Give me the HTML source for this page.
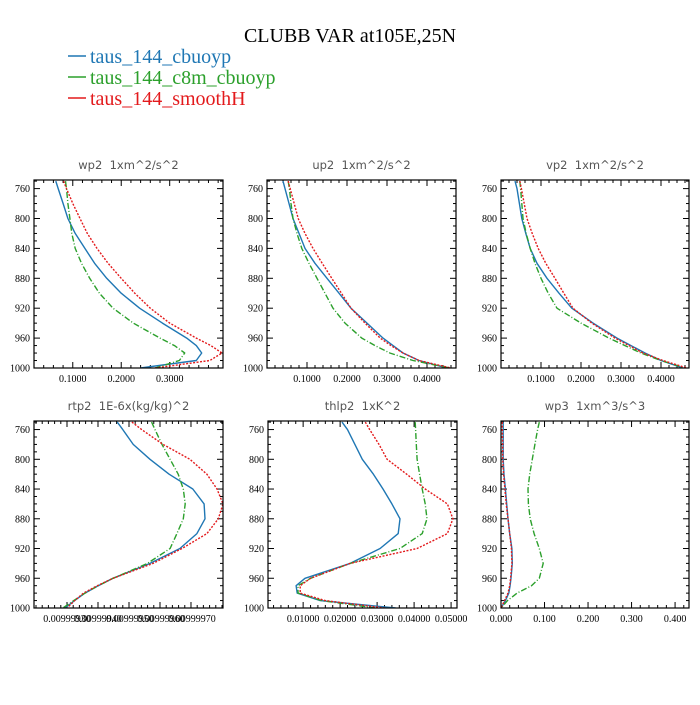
<!DOCTYPE html>
<html><head><meta charset="utf-8"><style>
html,body{margin:0;padding:0;background:#fff;}
svg text{font-family:"Liberation Serif",serif;}
.pt{font-family:"DejaVu Sans",sans-serif;font-size:11.5px;fill:#555;white-space:pre;}
.tk{font-size:10px;fill:#000;}
</style></head><body>
<svg id="chart" width="700" height="700" viewBox="0 0 700 700">
<text x="350" y="42" text-anchor="middle" font-size="20">CLUBB VAR at105E,25N</text>
<g>
<g><line x1="68" y1="56" x2="86" y2="56" stroke="#1f77b4" stroke-width="1.5"/><text x="90" y="63" font-size="20" fill="#1f77b4">taus_144_cbuoyp</text></g>
<g><line x1="68" y1="77" x2="86" y2="77" stroke="#2ca02c" stroke-width="1.5"/><text x="90" y="84" font-size="20" fill="#2ca02c">taus_144_c8m_cbuoyp</text></g>
<g><line x1="68" y1="98" x2="86" y2="98" stroke="#e31a1c" stroke-width="1.5"/><text x="90" y="105" font-size="20" fill="#e31a1c">taus_144_smoothH</text></g>
</g>
</svg>
<script>
const levels=[750,760,780,800,820,840,860,880,900,920,940,960,970,980,990,1000];
const yTicks=[760,800,840,880,920,960,1000];
const wp2Blue=[0.065,0.07,0.08,0.09,0.105,0.125,0.145,0.17,0.2,0.238,0.285,0.335,0.355,0.366,0.355,0.24];
const wp2Green=[0.085,0.087,0.09,0.094,0.098,0.105,0.118,0.135,0.155,0.183,0.225,0.28,0.31,0.331,0.32,0.27];
const wp2Red=[0.081,0.087,0.1,0.115,0.13,0.15,0.173,0.2,0.228,0.26,0.3,0.355,0.385,0.408,0.383,0.27];
const up2Blue=[0.04,0.045,0.055,0.065,0.08,0.095,0.12,0.15,0.18,0.21,0.25,0.29,0.315,0.34,0.38,0.45];
const up2Green=[0.053,0.056,0.06,0.065,0.075,0.087,0.105,0.125,0.145,0.165,0.195,0.237,0.27,0.307,0.365,0.457];
const up2Red=[0.053,0.058,0.068,0.078,0.095,0.115,0.138,0.162,0.186,0.21,0.245,0.283,0.31,0.34,0.38,0.46];
const vp2Blue=[0.035,0.04,0.046,0.052,0.062,0.073,0.09,0.115,0.145,0.177,0.23,0.29,0.325,0.36,0.4,0.455];
const vp2Green=[0.047,0.049,0.052,0.055,0.063,0.073,0.085,0.1,0.118,0.14,0.2,0.27,0.31,0.35,0.4,0.46];
const vp2Red=[0.047,0.051,0.058,0.065,0.078,0.093,0.112,0.135,0.157,0.18,0.227,0.285,0.32,0.355,0.405,0.465];
const rtp2Blue=[0.44,0.47,0.525,0.614,0.715,0.84,0.9,0.905,0.862,0.772,0.614,0.418,0.34,0.27,0.215,0.164];
const rtp2Green=[0.622,0.64,0.677,0.72,0.763,0.79,0.8,0.79,0.756,0.72,0.6,0.418,0.34,0.27,0.21,0.153];
const rtp2Red=[0.518,0.57,0.683,0.825,0.915,0.968,1.0,0.975,0.915,0.783,0.63,0.418,0.335,0.262,0.215,0.175];
const thlBlue=[0.0205,0.022,0.024,0.026,0.029,0.0316,0.034,0.0362,0.0357,0.0308,0.0227,0.0105,0.0081,0.0084,0.0146,0.035];
const thlGreen=[0.0403,0.0404,0.0406,0.0408,0.0415,0.0422,0.043,0.0435,0.0422,0.0362,0.0227,0.012,0.0086,0.0086,0.015,0.0295];
const thlRed=[0.0268,0.028,0.0305,0.0327,0.038,0.043,0.049,0.0505,0.049,0.0408,0.0227,0.012,0.0092,0.0092,0.016,0.032];
const wp3Blue=[0.005,0.005,0.005,0.005,0.007,0.01,0.013,0.016,0.02,0.025,0.026,0.023,0.021,0.018,0.01,0.0];
const wp3Green=[0.088,0.084,0.078,0.072,0.066,0.062,0.063,0.067,0.076,0.088,0.097,0.088,0.07,0.037,0.015,0.0];
const wp3Red=[0.003,0.003,0.004,0.004,0.006,0.009,0.012,0.016,0.02,0.024,0.025,0.022,0.02,0.016,0.008,0.0];

const panels=[
 {name:'wp2',title:'wp2  1xm^2/s^2',x0:34,x1:223,y0:180,y1:368,xmin:0.02,xmax:0.41,ticks:[0.1,0.2,0.3],labels:['0.1000','0.2000','0.3000'],minor:0.02,s:[wp2Blue,wp2Green,wp2Red]},
 {name:'up2',title:'up2  1xm^2/s^2',x0:267,x1:456,y0:180,y1:368,xmin:0,xmax:0.4725,ticks:[0.1,0.2,0.3,0.4],labels:['0.1000','0.2000','0.3000','0.4000'],minor:0.02,s:[up2Blue,up2Green,up2Red]},
 {name:'vp2',title:'vp2  1xm^2/s^2',x0:501,x1:689,y0:180,y1:368,xmin:0,xmax:0.47,ticks:[0.1,0.2,0.3,0.4],labels:['0.1000','0.2000','0.3000','0.4000'],minor:0.02,s:[vp2Blue,vp2Green,vp2Red]},
 {name:'rtp2',title:'rtp2  1E-6x(kg/kg)^2',x0:34,x1:223,y0:421,y1:608,xmin:0,xmax:1,ticks:[0.1746,0.3386,0.5079,0.672,0.836],labels:['0.00999930','0.00999940','0.00999950','0.00999960','0.00999970'],minor:0.0328,s:[rtp2Blue,rtp2Green,rtp2Red]},
 {name:'thlp2',title:'thlp2  1xK^2',x0:268,x1:457,y0:421,y1:608,xmin:0.0005,xmax:0.0516,ticks:[0.01,0.02,0.03,0.04,0.05],labels:['0.01000','0.02000','0.03000','0.04000','0.05000'],minor:0.002,s:[thlBlue,thlGreen,thlRed]},
 {name:'wp3',title:'wp3  1xm^3/s^3',x0:501,x1:689,y0:421,y1:608,xmin:0,xmax:0.432,ticks:[0,0.1,0.2,0.3,0.4],labels:['0.000','0.100','0.200','0.300','0.400'],minor:0.02,s:[wp3Blue,wp3Green,wp3Red]}
];
const colors=['#1f77b4','#2ca02c','#e31a1c'];
const dashes=['none','6,2,1,2','2,1.5'];
const seriesNames=['cbuoyp','c8m-cbuoyp','smoothH'];
const NS='http://www.w3.org/2000/svg';
const svg=document.getElementById('chart');
function mk(tag,attrs,parent){const e=document.createElementNS(NS,tag);for(const k in attrs)e.setAttribute(k,attrs[k]);parent.appendChild(e);return e;}
panels.forEach(p=>{
 const g=mk('g',{},svg);
 
 
 const xs=v=>p.x0+(v-p.xmin)/(p.xmax-p.xmin)*(p.x1-p.x0);
 const ys=v=>p.y0+(v-748.5)/(1000-748.5)*(p.y1-p.y0);
 const t=mk('text',{x:(p.x0+p.x1)/2,y:p.y0-11,'text-anchor':'middle',class:'pt'},g);
 t.textContent=p.title;
 
 
 const clipId='clip-'+p.name;
 const cp=mk('clipPath',{id:clipId},g);
 mk('rect',{x:p.x0,y:p.y0,width:p.x1-p.x0,height:p.y1-p.y0},cp);
 for(let v=750;v<=1000;v+=10){
  const y=ys(v);const maj=(v-760)%40===0&&v>=760;const L=maj?6:3;
  mk('line',{x1:p.x0,y1:y,x2:p.x0+L,y2:y,stroke:'#000','stroke-width':1},g);
  mk('line',{x1:p.x1,y1:y,x2:p.x1-L,y2:y,stroke:'#000','stroke-width':1},g);
 }
 yTicks.forEach(v=>{
  const tx=mk('text',{x:p.x0-4,y:ys(v)+3.5,'text-anchor':'end',class:'tk'},g);
  tx.textContent=String(v);
  
  
 });
 const base=p.ticks[0];
 for(let k=-60;k<=60;k++){
  const v=base+k*p.minor;if(v<p.xmin-1e-9||v>p.xmax+1e-9)continue;
  const x=xs(v);
  const isMaj=p.ticks.some(tv=>Math.abs(tv-v)<p.minor/4);
  const L=isMaj?6:3;
  mk('line',{x1:x,y1:p.y1,x2:x,y2:p.y1-L,stroke:'#000','stroke-width':1},g);
  mk('line',{x1:x,y1:p.y0,x2:x,y2:p.y0+L,stroke:'#000','stroke-width':1},g);
 }
 p.ticks.forEach((v,i)=>{
  const tx=mk('text',{x:xs(v),y:p.y1+14,'text-anchor':'middle',class:'tk'},g);
  tx.textContent=p.labels[i];
  
  
 });
 p.s.forEach((arr,si)=>{
  const pts=arr.map((v,i)=>xs(v).toFixed(1)+','+ys(levels[i]).toFixed(1)).join(' ');
  const pl=mk('polyline',{points:pts,fill:'none',stroke:colors[si],'stroke-width':1.4,'stroke-dasharray':dashes[si],'stroke-linejoin':'round','clip-path':'url(#'+clipId+')'},g);
  
  
 });
 const fr=mk('rect',{x:p.x0,y:p.y0,width:p.x1-p.x0,height:p.y1-p.y0,fill:'none',stroke:'#000','stroke-width':1.2},g);
 
 
});
</script>
</body></html>
